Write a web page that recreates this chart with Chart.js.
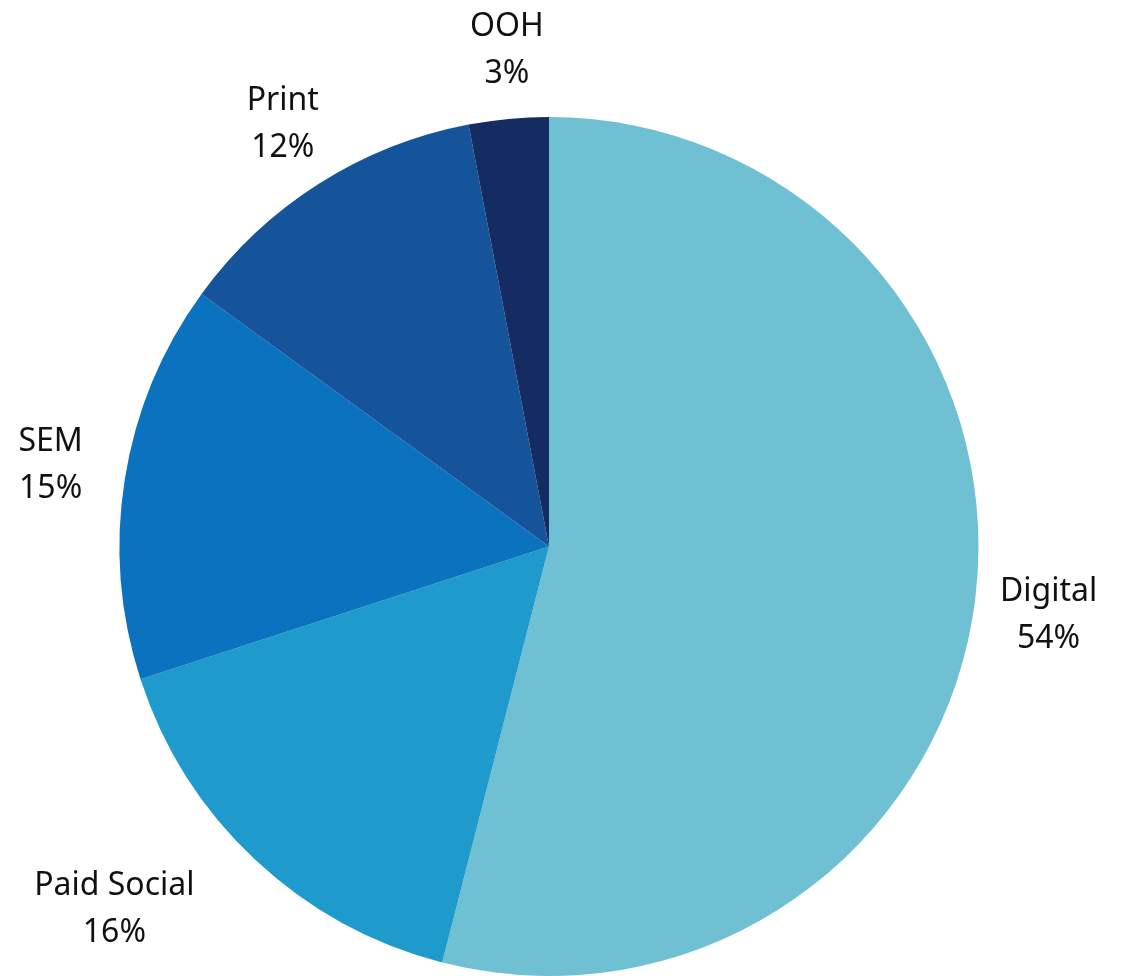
<!DOCTYPE html>
<html>
<head>
<meta charset="utf-8">
<script src="https://cdn.jsdelivr.net/npm/chart.js@4.4.1/dist/chart.umd.min.js"></script>
<style>
  html, body { margin: 0; padding: 0; background: #ffffff; }
  #wrap { width: 1123px; height: 976px; position: relative; }
</style>
</head>
<body>
<div id="wrap"><canvas id="c" width="1123" height="976"></canvas></div>
<script>
const categories = ["Digital", "Paid Social", "SEM", "Print", "OOH"];
const shares = [54, 16, 15, 12, 3];
const colors = ["#6fc0d3", "#1e9acd", "#0a72bf", "#15549a", "#152c62"];

const outsideLabels = {
  id: 'outsideLabels',
  afterDraw(chart, args, opts) {
    const ctx = chart.ctx;
    const meta = chart.getDatasetMeta(0);
    ctx.save();
    ctx.fillStyle = opts.color;
    ctx.font = opts.font;
    ctx.textAlign = 'center';
    ctx.textBaseline = 'middle';
    meta.data.forEach((arc, i) => {
      const p = arc.getProps(['startAngle', 'endAngle', 'x', 'y', 'outerRadius'], true);
      const mid = (p.startAngle + p.endAngle) / 2;
      const d = p.outerRadius + opts.gap;
      const n = (opts.nudge && opts.nudge[i]) || [0, 0];
      const x = p.x + Math.cos(mid) * d + n[0];
      const y = p.y + Math.sin(mid) * d + n[1];
      const val = chart.data.datasets[0].data[i];
      ctx.fillText(chart.data.labels[i], x, y - opts.lineHeight / 2);
      ctx.fillText(val + '%', x, y + opts.lineHeight / 2);
    });
    ctx.restore();
  }
};

new Chart(document.getElementById('c'), {
  type: 'pie',
  data: {
    labels: categories,
    datasets: [{
      data: shares,
      backgroundColor: colors,
      borderWidth: 0
    }]
  },
  options: {
    responsive: false,
    animation: false,
    layout: { padding: { top: 117, bottom: -3, left: 0, right: 25 } },
    plugins: {
      legend: { display: false },
      tooltip: { enabled: false },
      outsideLabels: {
        color: '#111111',
        font: '32px "Noto Sans", "Open Sans", sans-serif',
        lineHeight: 47,
        gap: 71,
        nudge: [[3, 6], [-92, -2], [-4, -3], [2, 0], [5, 2]]
      }
    }
  },
  plugins: [outsideLabels]
});
</script>
</body>
</html>
